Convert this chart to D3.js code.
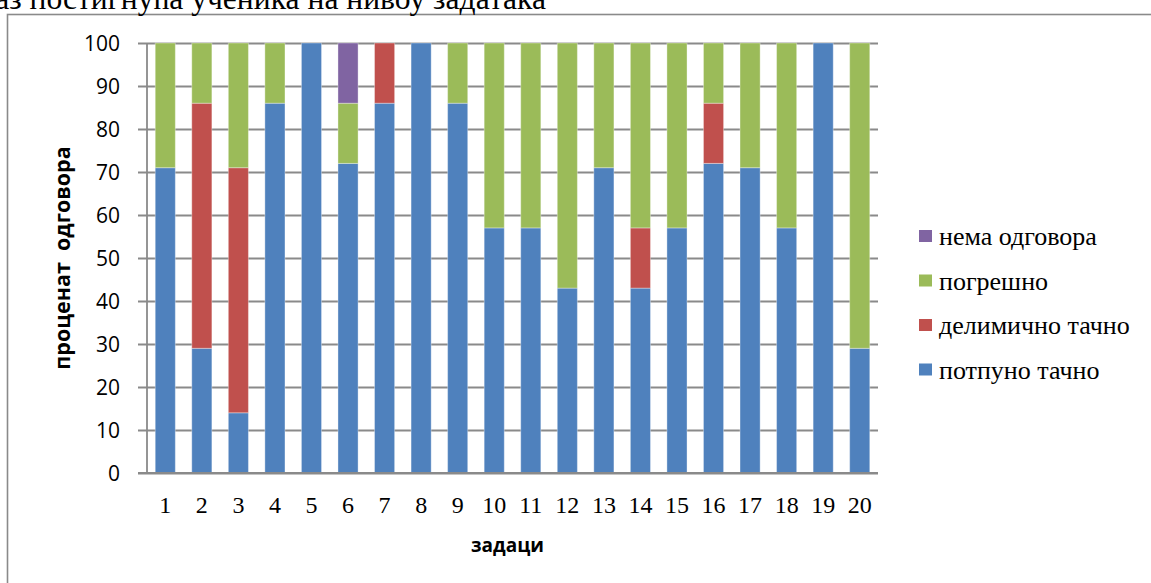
<!DOCTYPE html>
<html>
<head>
<meta charset="utf-8">
<script src="https://cdn.jsdelivr.net/npm/d3@7"></script>
<style>
  html, body { margin: 0; padding: 0; background: #fff; overflow: hidden; }
  svg { display: block; }
</style>
</head>
<body>
<svg id="chart" width="1151" height="583"></svg>
<script>
// Tasks 1–20 and the percentage of answers in each category
const tasks = ["1","2","3","4","5","6","7","8","9","10","11","12","13","14","15","16","17","18","19","20"];
const fullyCorrect   = [71, 29, 14, 86, 100, 72, 86, 100, 86, 57, 57, 43, 71, 43, 57, 72, 71, 57, 100, 29];
const partlyCorrect  = [0, 57, 57, 0, 0, 0, 14, 0, 0, 0, 0, 0, 0, 14, 0, 14, 0, 0, 0, 0];
const wrong          = [29, 14, 29, 14, 0, 14, 0, 0, 14, 43, 43, 57, 29, 43, 43, 14, 29, 43, 0, 71];
const noAnswer       = [0, 0, 0, 0, 0, 14, 0, 0, 0, 0, 0, 0, 0, 0, 0, 0, 0, 0, 0, 0];
const seriesNames    = ["потпуно тачно", "делимично тачно", "погрешно", "нема одговора"];
const seriesColors   = ["#4F81BD", "#C0504D", "#9BBB59", "#8064A2"];
const yTicks         = [0, 10, 20, 30, 40, 50, 60, 70, 80, 90, 100];

const svg = d3.select("#chart");
const gridColor = "#8a8a8a";
const serif = "'Liberation Serif', 'DejaVu Serif', serif";
const sans = "'Open Sans', sans-serif";

// outer frame of the chart object
svg.append("rect")
  .attr("x", 7.5).attr("y", 14.5)
  .attr("width", 1200).attr("height", 700)
  .attr("fill", "none").attr("stroke", gridColor).attr("stroke-width", 1.6);

// heading above the frame
svg.append("text")
  .attr("x", 546).attr("y", 9)
  .attr("text-anchor", "end")
  .attr("font-family", serif)
  .attr("font-size", 31.6)
  .attr("fill", "#000")
  .text("Приказ постигнућа ученика на нивоу задатака");

const plot = { left: 147, right: 878, top: 43, bottom: 473 };

const x = d3.scaleBand()
  .domain(tasks)
  .range([plot.left, plot.right])
  .paddingInner(0.45)
  .paddingOuter(0.225);

const y = d3.scaleLinear()
  .domain([0, 100])
  .range([plot.bottom, plot.top]);

// horizontal gridlines with their outside tick marks
const yAxis = d3.axisLeft(y)
  .tickValues(yTicks)
  .tickSize(-(plot.right - plot.left))
  .tickSizeOuter(0)
  .tickFormat(d => d);

const gy = svg.append("g")
  .attr("transform", `translate(${plot.left},0)`)
  .call(yAxis);
gy.select(".domain").remove();
gy.selectAll(".tick line")
  .attr("x1", -9)
  .attr("stroke", gridColor)
  .attr("stroke-width", 1.8);
gy.selectAll(".tick text")
  .attr("x", -27)
  .attr("dy", "0.35em")
  .attr("font-family", sans)
  .attr("font-size", 21)
  .attr("fill", "#000");

// stacked bars
const table = tasks.map((t, i) => ({
  task: t,
  [seriesNames[0]]: fullyCorrect[i],
  [seriesNames[1]]: partlyCorrect[i],
  [seriesNames[2]]: wrong[i],
  [seriesNames[3]]: noAnswer[i]
}));
const stacked = d3.stack().keys(seriesNames)(table);
const color = d3.scaleOrdinal().domain(seriesNames).range(seriesColors);

svg.append("g")
  .selectAll("g")
  .data(stacked)
  .join("g")
  .attr("fill", d => color(d.key))
  .selectAll("rect")
  .data(d => d.filter(s => s[1] - s[0] > 0))
  .join("rect")
  .attr("x", d => x(d.data.task))
  .attr("width", x.bandwidth())
  .attr("y", d => y(d[1]))
  .attr("height", d => y(d[0]) - y(d[1]))
  .attr("stroke", "rgba(255,255,255,0.35)")
  .attr("stroke-width", 1);

// vertical axis line
svg.append("line")
  .attr("x1", plot.left).attr("x2", plot.left)
  .attr("y1", plot.top).attr("y2", plot.bottom)
  .attr("stroke", gridColor).attr("stroke-width", 1.8);

// category axis
const gx = svg.append("g")
  .attr("transform", `translate(0,${plot.bottom})`)
  .call(d3.axisBottom(x).tickSize(0).tickSizeOuter(0));
gx.select(".domain")
  .attr("d", `M${plot.left - 9},0H${plot.right}`)
  .attr("stroke", gridColor).attr("stroke-width", 1.8);
gx.selectAll(".tick text")
  .attr("y", 40)
  .attr("dy", 0)
  .attr("font-family", serif)
  .attr("font-size", 24)
  .attr("fill", "#000");

// axis titles
svg.append("text")
  .attr("x", (plot.left + plot.right) / 2 - 5)
  .attr("y", 552)
  .attr("text-anchor", "middle")
  .attr("font-family", sans)
  .attr("font-weight", "bold")
  .attr("font-size", 19)
  .text("задаци");

svg.append("text")
  .attr("transform", `translate(70,${(plot.top + plot.bottom) / 2}) rotate(-90)`)
  .attr("text-anchor", "middle")
  .attr("font-family", sans)
  .attr("font-weight", "bold")
  .attr("font-size", 21.5)
  .attr("xml:space", "preserve")
  .text("проценат  одговора");

// legend, top entry is the top series of the stack
const legendItems = seriesNames.slice().reverse();
const legend = svg.append("g")
  .selectAll("g")
  .data(legendItems)
  .join("g")
  .attr("transform", (d, i) => `translate(919,${230 + i * 44.5})`);
legend.append("rect")
  .attr("width", 13).attr("height", 12)
  .attr("fill", d => color(d));
legend.append("text")
  .attr("x", 20).attr("y", 15)
  .attr("font-family", serif)
  .attr("font-size", 26)
  .attr("fill", "#000")
  .text(d => d);
</script>
</body>
</html>
